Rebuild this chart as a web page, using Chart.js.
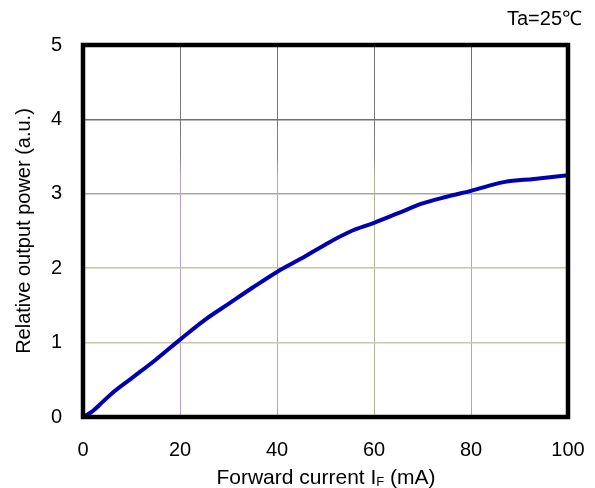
<!DOCTYPE html>
<html>
<head>
<meta charset="utf-8">
<script src="https://cdn.jsdelivr.net/npm/chart.js@4"></script>
<style>
  html, body { margin: 0; padding: 0; background: #fff; }
  #wrap { width: 595px; height: 488px; }
</style>
</head>
<body>
<div id="wrap"><canvas id="chart"></canvas></div>
<script>
// forward current (mA) vs relative output power (a.u.)
const current = [0, 2, 4, 6, 10, 15, 20, 25, 30, 35, 40, 45, 50, 55, 60, 65, 70, 75, 80, 87, 93, 100];
const power = [0, 0.08, 0.2, 0.32, 0.52, 0.77, 1.04, 1.3, 1.52, 1.74, 1.95, 2.13, 2.32, 2.49, 2.61, 2.74, 2.87, 2.96, 3.04, 3.16, 3.2, 3.25];
const xTicks = [0, 20, 40, 60, 80, 100];
const yTicks = [0, 1, 2, 3, 4, 5];

const FONT = "'Liberation Sans', Arial, sans-serif";

// gridline tints (scan look): dark grey at top, tinted lower down
const xTint = { 20: "#b8a0b8", 40: "#a8a8cc", 60: "#b0b498", 80: "#a8a8d4" };
const yTint = { 1: "#c8c8b0", 2: "#c8c4a0", 3: "#a8a8a8", 4: "#707070" };

function xGridColor(c) {
  const v = c.tick && c.tick.value;
  const tint = xTint[v];
  if (!tint) return "rgba(0,0,0,0)";
  const area = c.chart.chartArea;
  if (!area) return tint;
  const g = c.chart.ctx.createLinearGradient(0, area.top, 0, area.bottom);
  g.addColorStop(0, "#707070");
  g.addColorStop(0.3, "#808080");
  g.addColorStop(0.35, tint);
  g.addColorStop(1, tint);
  return g;
}

const frame = {
  id: "frame",
  afterDraw(chart) {
    const { ctx, chartArea: a } = chart;
    ctx.save();
    ctx.strokeStyle = "#000";
    ctx.lineWidth = 4.5;
    ctx.strokeRect(a.left, a.top, a.right - a.left, a.bottom - a.top);

    ctx.fillStyle = "#000";
    ctx.textBaseline = "alphabetic";
    // corner note
    ctx.font = "20px " + FONT;
    ctx.textAlign = "right";
    ctx.fillText("Ta=25\u2103", 582, 25);

    // x title with subscript F
    const big = "21px " + FONT, small = "13px " + FONT;
    const p1 = "Forward current I", p2 = "F", p3 = " (mA)";
    ctx.font = big;
    const w1 = ctx.measureText(p1).width, w3 = ctx.measureText(p3).width;
    ctx.font = small;
    const w2 = ctx.measureText(p2).width;
    let x = 326 - (w1 + w2 + w3) / 2;
    const y = 484;
    ctx.textAlign = "left";
    ctx.font = big; ctx.fillText(p1, x, y); x += w1;
    ctx.font = small; ctx.fillText(p2, x, y + 2); x += w2;
    ctx.font = big; ctx.fillText(p3, x, y);
    ctx.restore();
  }
};

new Chart(document.getElementById("chart"), {
  type: "line",
  data: {
    datasets: [{
      data: current.map((c, i) => ({ x: c, y: power[i] })),
      borderColor: "#0000b0",
      borderWidth: 4,
      pointRadius: 0,
      cubicInterpolationMode: "monotone",
      fill: false
    }]
  },
  options: {
    responsive: true,
    maintainAspectRatio: false,
    animation: false,
    layout: { padding: { top: 45, right: 27, left: 0, bottom: 0 } },
    plugins: { legend: { display: false }, tooltip: { enabled: false } },
    scales: {
      x: {
        type: "linear",
        min: 0, max: 100,
        afterBuildTicks: s => { s.ticks = xTicks.map(v => ({ value: v })); },
        afterFit: s => { s.height = 71; s.paddingRight = 0; },
        border: { display: false },
        grid: { color: xGridColor, lineWidth: 1, drawTicks: false },
        ticks: { color: "#000", font: { family: FONT, size: 20 }, padding: 21, maxRotation: 0 }
      },
      y: {
        min: 0, max: 5,
        afterBuildTicks: s => { s.ticks = yTicks.map(v => ({ value: v })); },
        afterFit: s => { s.width = 83; },
        border: { display: false },
        grid: {
          color: c => yTint[c.tick && c.tick.value] || "rgba(0,0,0,0)",
          lineWidth: 1.5, drawTicks: false
        },
        ticks: { color: "#000", font: { family: FONT, size: 20 }, padding: 21 },
        title: {
          display: true,
          text: "Relative output power (a.u.)",
          color: "#000",
          font: { family: FONT, size: 20 },
          padding: { top: 12, bottom: 4 }
        }
      }
    }
  },
  plugins: [frame]
});
</script>
</body>
</html>
